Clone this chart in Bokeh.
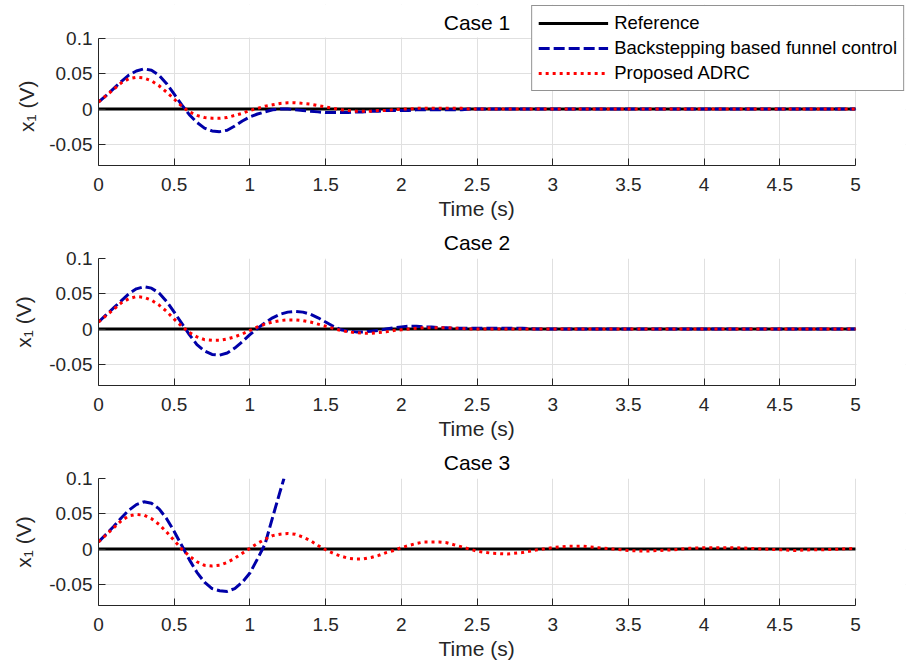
from bokeh.plotting import figure
from bokeh.layouts import column
from bokeh.models import (FixedTicker, Legend, LegendItem, Range1d, NumeralTickFormatter,
                          BoxAnnotation, Label, Title)
from bokeh.embed import file_html
from bokeh.resources import INLINE

# ---------------- data ----------------
t = [0.0, 0.05, 0.1, 0.15, 0.2, 0.25, 0.3, 0.35, 0.4, 0.45, 0.5,
     0.55, 0.6, 0.65, 0.7, 0.75, 0.8, 0.85, 0.9, 0.95, 1.0,
     1.05, 1.1, 1.15, 1.2, 1.25, 1.3, 1.35, 1.4, 1.45, 1.5,
     1.55, 1.6, 1.65, 1.7, 1.75, 1.8, 1.85, 1.9, 1.95, 2.0,
     2.05, 2.1, 2.15, 2.2, 2.25, 2.3, 2.35, 2.4, 2.45, 2.5,
     2.6, 2.7, 2.8, 2.9, 3.0, 3.1, 3.2, 3.3, 3.4, 3.5, 3.6, 3.7, 3.8, 3.9,
     4.0, 4.1, 4.2, 4.3, 4.4, 4.5, 4.6, 4.7, 4.8, 4.9, 5.0]

ref_t = [0.0, 5.0]
ref_x = [0.0, 0.0]

case1_backstep = [0.010, 0.019, 0.029, 0.039, 0.048, 0.054, 0.057, 0.055, 0.048, 0.036, 0.021,
                  0.006, -0.008, -0.019, -0.027, -0.031, -0.032, -0.030, -0.024, -0.017, -0.011,
                  -0.007, -0.004, -0.001, 0.000, 0.000, -0.001, -0.002, -0.003, -0.004, -0.005,
                  -0.005, -0.005, -0.005, -0.004, -0.004, -0.003, -0.003, -0.002, -0.002, -0.002,
                  -0.002, -0.001, -0.001, -0.001, -0.001, -0.001, -0.001, -0.001, 0.000, 0.000,
                  0, 0, 0, 0, 0, 0, 0, 0, 0, 0, 0, 0, 0, 0, 0, 0, 0, 0, 0, 0, 0, 0, 0, 0, 0]
case1_adrc = [0.010, 0.019, 0.028, 0.037, 0.043, 0.045, 0.044, 0.040, 0.033, 0.024, 0.014,
              0.004, -0.004, -0.009, -0.012, -0.013, -0.013, -0.012, -0.009, -0.006, -0.002,
              0.001, 0.004, 0.006, 0.008, 0.009, 0.009, 0.008, 0.007, 0.005, 0.003,
              0.001, -0.001, -0.002, -0.003, -0.003, -0.003, -0.002, -0.002, -0.001, 0.000,
              0.000, 0.001, 0.001, 0.001, 0.001, 0.001, 0.001, 0.001, 0.000, 0.000,
              0, 0, 0, 0, 0, 0, 0, 0, 0, 0, 0, 0, 0, 0, 0, 0, 0, 0, 0, 0, 0, 0, 0, 0, 0]

case2_backstep = [0.010, 0.020, 0.030, 0.040, 0.050, 0.057, 0.060, 0.058, 0.051, 0.039, 0.024,
                  0.008, -0.008, -0.022, -0.031, -0.036, -0.037, -0.034, -0.027, -0.018, -0.008,
                  0.001, 0.009, 0.016, 0.021, 0.024, 0.025, 0.024, 0.021, 0.016, 0.010,
                  0.004, -0.001, -0.003, -0.004, -0.004, -0.003, -0.002, 0.000, 0.002, 0.003,
                  0.004, 0.004, 0.003, 0.003, 0.002, 0.002, 0.001, 0.001, 0.001, 0.001,
                  0.001, 0.001, 0.001, 0, 0, 0, 0, 0, 0, 0, 0, 0, 0, 0, 0, 0, 0, 0, 0, 0, 0, 0, 0, 0, 0]
case2_adrc = [0.010, 0.019, 0.028, 0.037, 0.043, 0.046, 0.045, 0.041, 0.034, 0.025, 0.014,
              0.004, -0.005, -0.011, -0.015, -0.016, -0.016, -0.014, -0.011, -0.007, -0.002,
              0.003, 0.007, 0.010, 0.012, 0.013, 0.013, 0.012, 0.010, 0.007, 0.004,
              0.001, -0.002, -0.004, -0.005, -0.006, -0.006, -0.005, -0.004, -0.002, -0.001,
              0.000, 0.001, 0.002, 0.002, 0.002, 0.002, 0.001, 0.001, 0.000, 0.000,
              0, 0, 0, 0, 0, 0, 0, 0, 0, 0, 0, 0, 0, 0, 0, 0, 0, 0, 0, 0, 0, 0, 0, 0, 0]

t_case3_backstep = [0.0, 0.05, 0.1, 0.15, 0.2, 0.25, 0.3, 0.35, 0.4, 0.45, 0.5,
                    0.55, 0.6, 0.65, 0.7, 0.75, 0.8, 0.85, 0.9, 0.95, 1.0,
                    1.05, 1.1, 1.15, 1.2, 1.225]
case3_backstep = [0.010, 0.021, 0.032, 0.044, 0.055, 0.063, 0.067, 0.065, 0.057, 0.043, 0.025,
                  0.005, -0.015, -0.033, -0.047, -0.056, -0.059, -0.060, -0.056, -0.047, -0.034,
                  -0.014, 0.007, 0.045, 0.082, 0.100]
case3_adrc = [0.010, 0.020, 0.030, 0.040, 0.047, 0.049, 0.048, 0.043, 0.035, 0.024, 0.012,
              0.000, -0.010, -0.018, -0.023, -0.024, -0.023, -0.019, -0.013, -0.006, 0.001,
              0.008, 0.014, 0.019, 0.021, 0.022, 0.021, 0.017, 0.012, 0.005, -0.001,
              -0.006, -0.010, -0.013, -0.014, -0.014, -0.012, -0.009, -0.005, -0.002, 0.002,
              0.005, 0.008, 0.010, 0.010, 0.010, 0.009, 0.006, 0.003, 0.000, -0.003,
              -0.006, -0.007, -0.005, -0.001, 0.002, 0.004, 0.004, 0.002, 0.000, -0.002,
              -0.003, -0.002, -0.001, 0.001, 0.002, 0.002, 0.002, 0.001, 0.000, -0.001,
              -0.002, -0.001, -0.001, 0.000, 0.001]

x_ticks = [0, 0.5, 1, 1.5, 2, 2.5, 3, 3.5, 4, 4.5, 5]
x_tick_labels = ["0", "0.5", "1", "1.5", "2", "2.5", "3", "3.5", "4", "4.5", "5"]
y_ticks = [-0.05, 0, 0.05, 0.1]
y_tick_labels = ["-0.05", "0", "0.05", "0.1"]
x_lim = (0, 5)
y_lim = (-0.08, 0.1)

case_titles = ["Case 1", "Case 2", "Case 3"]
x_label = "Time (s)"
y_label = "x\u2081 (V)"
series_names = ["Reference", "Backstepping based funnel control", "Proposed ADRC"]

# ---------------- styling / layout ----------------
FONT = "Liberation Sans"
AX = "#262626"
GRID = "#e0e0e0"
BLUE = "#0000a8"
RED = "#ff0000"
STYLES = [dict(line_color="black", line_width=3),
          dict(line_color=BLUE, line_width=3, line_dash="11 4"),
          dict(line_color=RED, line_width=3, line_dash="3 4")]

W = 906
LEFT = 98          # axes box left edge (px)
RIGHT = 1          # drawing area reaches almost to the right edge (room for the legend)
AXES_W = 757       # axes box width (px)
AXES_H = 127       # axes box height (px)
FRAME_W = W - LEFT - RIGHT
PX_X = AXES_W / (x_lim[1] - x_lim[0])
PX_Y = AXES_H / (y_lim[1] - y_lim[0])
X_MAX = x_lim[0] + FRAME_W / PX_X
LABEL_PX = 21
# Arial/Liberation advance widths (em) used to centre left-anchored titles over the axes box
EM = {"T": .611, "i": .222, "m": .833, "e": .556, " ": .278, "(": .333, "s": .5, ")": .333,
      "C": .722, "a": .556, "1": .556, "2": .556, "3": .556, "x": .5, "\u2081": .556, "V": .667}


def text_w(s):
    return sum(EM.get(c, .556) for c in s) * LABEL_PX


def centred_offset(s):
    return AXES_W / 2 - text_w(s) / 2


def style_fig(p):
    p.outline_line_color = None
    p.background_fill_color = "white"
    p.border_fill_color = "white"
    p.xaxis.ticker = FixedTicker(ticks=x_ticks)
    p.yaxis.ticker = FixedTicker(ticks=y_ticks)
    p.xaxis.formatter = NumeralTickFormatter(format="0.[00]")
    p.yaxis.formatter = NumeralTickFormatter(format="0.[00]")
    p.xaxis.major_label_overrides = {float(k): v for k, v in zip(x_ticks, x_tick_labels)}
    p.yaxis.major_label_overrides = {float(k): v for k, v in zip(y_ticks, y_tick_labels)}
    p.xaxis.bounds = x_lim
    p.yaxis.bounds = y_lim
    for ax in (p.xaxis, p.yaxis):
        ax.axis_line_color = AX
        ax.axis_line_width = 1
        ax.major_tick_line_color = AX
        ax.major_tick_in = 7
        ax.major_tick_out = 0
        ax.minor_tick_line_color = None
        ax.major_label_text_font = FONT
        ax.major_label_text_font_size = "19px"
        ax.major_label_text_color = AX
        ax.axis_label_text_font = FONT
        ax.axis_label_text_font_size = "%dpx" % LABEL_PX
        ax.axis_label_text_font_style = "normal"
        ax.axis_label_text_color = AX
    p.xaxis.major_label_standoff = 12
    p.yaxis.major_label_standoff = 6
    p.yaxis.axis_label_standoff = 11
    p.xgrid.grid_line_color = GRID
    p.ygrid.grid_line_color = GRID
    # x-axis label, centred under the axes box
    p.add_layout(Title(text=x_label, align="left", offset=centred_offset(x_label), text_font=FONT,
                       text_font_size="%dpx" % LABEL_PX, text_font_style="normal", text_color=AX,
                       standoff=2), "below")
    # blank out the grid to the right of the axes box
    p.add_layout(BoxAnnotation(left=x_lim[1] + 1.0 / PX_X, fill_color="white", fill_alpha=1,
                               line_color=None, level="underlay"))


def style_title(p):
    p.title.align = "left"
    p.title.offset = centred_offset(p.title.text)
    p.title.text_font = FONT
    p.title.text_font_size = "%dpx" % LABEL_PX
    p.title.text_font_style = "normal"
    p.title.text_color = "black"
    p.title.standoff = 6
    p.title.vertical_align = "top"


# --- first panel: its drawing area also hosts the legend (which overhangs the axes box) ---
TOP1 = 4            # canvas px where the legend box starts
AXES_TOP1 = 38      # axes box top in the first panel
frame_h1 = AXES_TOP1 - TOP1 + AXES_H
y_max1 = y_lim[0] + frame_h1 / PX_Y

p1 = figure(width=W, height=224, x_range=Range1d(x_lim[0], X_MAX), y_range=Range1d(y_lim[0], y_max1),
            output_backend="svg", toolbar_location=None,
            min_border_left=LEFT, min_border_right=RIGHT, min_border_top=TOP1, min_border_bottom=59)
p1.title.visible = False
style_fig(p1)
# y label of the first panel centred on its axes box (not on the taller drawing area)
p1.add_layout(Title(text=y_label, align="left", offset=AXES_H / 2 - text_w(y_label) / 2 - 2,
                    text_font=FONT, text_font_size="%dpx" % LABEL_PX, text_font_style="normal",
                    text_color=AX, standoff=18), "left")
p1.add_layout(BoxAnnotation(bottom=y_lim[1] + 1.0 / PX_Y, fill_color="white", fill_alpha=1,
                            line_color=None, level="underlay"))
p1.add_layout(Label(x=(x_lim[0] + x_lim[1]) / 2, y=y_lim[1] + 16.5 / PX_Y, text=case_titles[0],
                    text_align="center", text_baseline="middle", text_font=FONT,
                    text_font_size="%dpx" % LABEL_PX, text_color="black"))

p2 = figure(width=W, height=220, x_range=Range1d(x_lim[0], X_MAX), y_range=Range1d(*y_lim),
            output_backend="svg", toolbar_location=None, title=case_titles[1],
            min_border_left=LEFT, min_border_right=RIGHT, min_border_top=34, min_border_bottom=59)
p3 = figure(width=W, height=224, x_range=Range1d(x_lim[0], X_MAX), y_range=Range1d(*y_lim),
            output_backend="svg", toolbar_location=None, title=case_titles[2],
            min_border_left=LEFT, min_border_right=RIGHT, min_border_top=34, min_border_bottom=63)
for p in (p2, p3):
    style_fig(p)
    style_title(p)
    p.yaxis.axis_label = y_label

cases = [(p1, t, case1_backstep, t, case1_adrc),
         (p2, t, case2_backstep, t, case2_adrc),
         (p3, t_case3_backstep, case3_backstep, t, case3_adrc)]

leg_renderers = None
for p, tb, yb, ta, ya in cases:
    r0 = p.line(ref_t, ref_x, **STYLES[0])
    r1 = p.line(tb, yb, **STYLES[1])
    r2 = p.line(ta, ya, **STYLES[2])
    if leg_renderers is None:
        leg_renderers = [r0, r1, r2]

legend = Legend(items=[LegendItem(label=n, renderers=[r]) for n, r in zip(series_names, leg_renderers)],
                location="top_right", margin=1, padding=6, spacing=3,
                glyph_width=70, glyph_height=22, label_height=22, label_standoff=6,
                label_text_font=FONT, label_text_font_size="18.5px", label_text_color="black",
                border_line_color=AX, border_line_width=1, background_fill_color="white",
                background_fill_alpha=1.0)
p1.add_layout(legend)

layout = column(p1, p2, p3, spacing=0)
open("out.html", "w").write(file_html(layout, INLINE))
